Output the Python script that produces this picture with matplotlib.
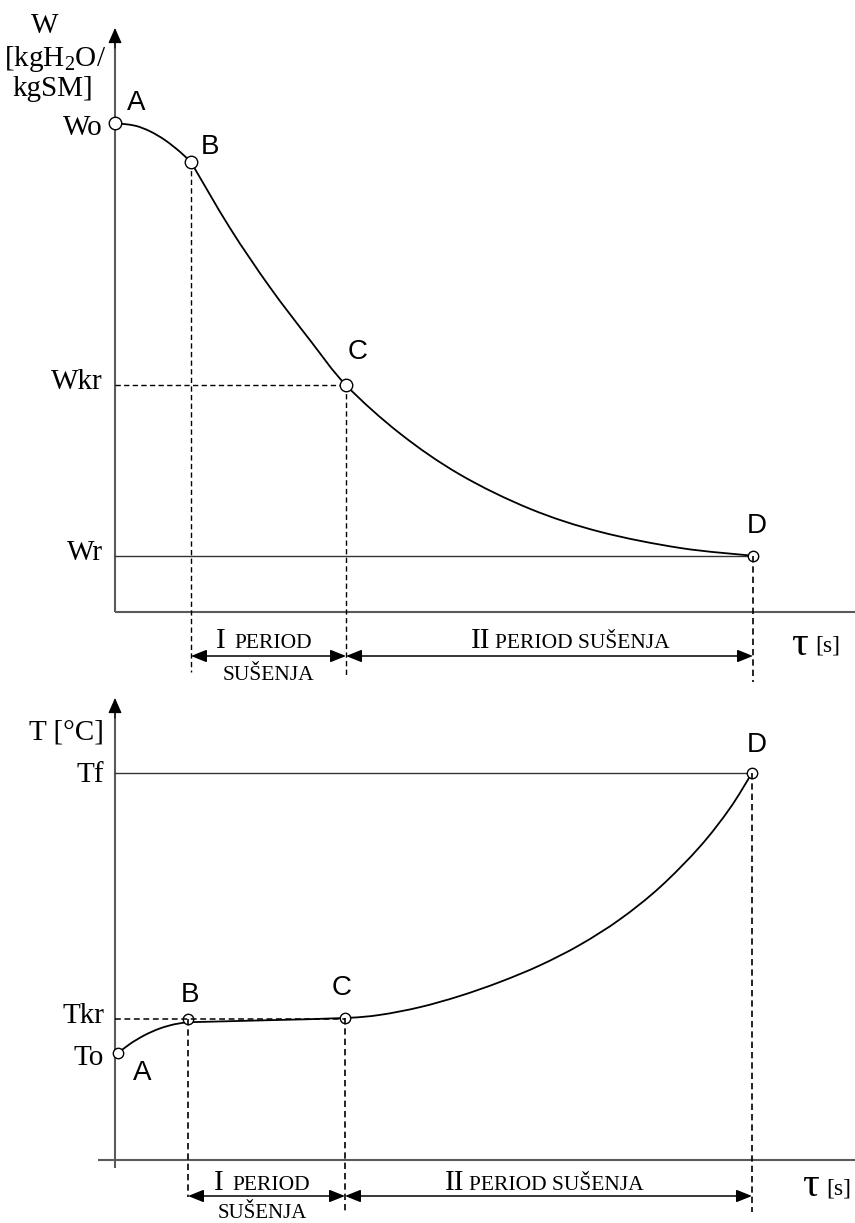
import matplotlib
matplotlib.use('Agg')
import matplotlib.pyplot as plt
from matplotlib.path import Path
from matplotlib.patches import PathPatch

plt.rcParams['mathtext.fontset'] = 'custom'
plt.rcParams['mathtext.rm'] = 'Liberation Serif'
plt.rcParams['mathtext.it'] = 'Liberation Serif:italic'

SERIF = 'Liberation Serif'
SANS = 'Liberation Sans'

# ---------------- data: moisture content W vs drying time tau ----------------
# segment A -> B
tau_W1 = [0.0, 0.313, 0.549, 0.784, 1.019, 1.191]
W_curve1 = [1.0, 0.9945, 0.983, 0.965, 0.941, 0.920]
# segment B -> D
tau_W2 = [1.191, 1.803, 2.429, 3.056, 3.621, 4.467, 5.408, 6.505, 7.602, 8.856, 10.0]
W_curve2 = [0.920, 0.785, 0.664, 0.556, 0.464, 0.365, 0.281, 0.211, 0.164, 0.131, 0.115]
W_pt_names = ['A', 'B', 'C', 'D']
W_pt_tau = [0.0, 1.191, 3.621, 10.0]
W_pt_val = [1.0, 0.920, 0.464, 0.115]
W_tick_labels = ['Wo', 'Wkr', 'Wr']
W_tick_vals = [1.0, 0.464, 0.115]

# ---------------- data: temperature T vs drying time tau ----------------
# segment A -> B
tau_T1 = [0.047, 0.235, 0.470, 0.705, 0.940, 1.144]
T_curve1 = [0.276, 0.300, 0.323, 0.340, 0.351, 0.356]
# segment B -> D
tau_T2 = [1.144, 2.351, 3.605, 4.154, 4.781, 5.408, 6.034, 6.661, 7.288, 7.915,
          8.542, 9.169, 9.639, 9.984]
T_curve2 = [0.356, 0.361, 0.367, 0.375, 0.395, 0.424, 0.460, 0.503, 0.556, 0.622,
            0.705, 0.810, 0.909, 1.0]
T_pt_names = ['A', 'B', 'C', 'D']
T_pt_tau = [0.047, 1.144, 3.605, 9.984]
T_pt_val = [0.276, 0.364, 0.367, 1.0]
T_tick_labels = ['Tf', 'Tkr', 'To']
T_tick_vals = [1.0, 0.364, 0.276]

period1 = ('I', 'PERIOD', 'SUŠENJA')
period2 = ('II', 'PERIOD SUŠENJA')

# ---------------- layout helpers (pixel -> data, for annotations only) -------
PXU = 63.8
X0 = 115.0
def tx(px):
    return (px - X0) / PXU
def ty_top(py):
    return (612.0 - py) / 489.0
def ty_bot(py):
    return (1160.0 - py) / 387.0


def smooth_curve(ax, xs, ys, **kw):
    """Draw a smooth line through the read points (Catmull-Rom as Bezier path)."""
    n = len(xs)
    verts = [(xs[0], ys[0])]
    codes = [Path.MOVETO]
    for i in range(n - 1):
        x0, y0 = (xs[i - 1], ys[i - 1]) if i > 0 else (xs[i], ys[i])
        x1, y1 = xs[i], ys[i]
        x2, y2 = xs[i + 1], ys[i + 1]
        x3, y3 = (xs[i + 2], ys[i + 2]) if i + 2 < n else (xs[i + 1], ys[i + 1])
        c1 = (x1 + (x2 - x0) / 6.0, y1 + (y2 - y0) / 6.0)
        c2 = (x2 - (x3 - x1) / 6.0, y2 - (y3 - y1) / 6.0)
        verts += [c1, c2, (x2, y2)]
        codes += [Path.CURVE4] * 3
    ax.add_patch(PathPatch(Path(verts, codes), fill=False, **kw))


fig = plt.figure(figsize=(8.55, 12.23), dpi=100)
axT = fig.add_axes([0, 0, 1, 1], label='top')
axB = fig.add_axes([0, 0, 1, 1], label='bottom')
axB.set_facecolor('none')
for ax in (axT, axB):
    ax.set_axis_off()
    ax.set_xlim(tx(0), tx(855))
axT.set_ylim(ty_top(1223), ty_top(0))
axB.set_ylim(ty_bot(1223), ty_bot(0))

AXC = '#5a5a5a'
DASH = (0, (3.8, 2.4))
tfs = 21          # tick-like label font size
pfs = 20          # point label size


def axis_line(ax, start, tip, color=AXC):
    ax.plot([start[0], tip[0]], [start[1], tip[1]], color=color, lw=1.5,
            solid_capstyle='butt', zorder=2)


def head(ax, base, tip):
    ax.annotate('', xy=tip, xytext=base,
                arrowprops=dict(arrowstyle='-|>,head_length=0.95,head_width=0.42',
                                color='black', lw=0.8, shrinkA=0, shrinkB=0),
                zorder=3)


def dbl(ax, x1, x2, y):
    ax.annotate('', xy=(x2, y), xytext=(x1, y),
                arrowprops=dict(arrowstyle='<|-|>,head_length=0.95,head_width=0.38',
                                color='black', lw=1.1, shrinkA=0, shrinkB=0),
                zorder=3)


# =============================== TOP PANEL ===================================
ax = axT
axis_line(ax, (0, 0), (0, ty_top(30)))
head(ax, (0, ty_top(48)), (0, ty_top(28)))
axis_line(ax, (0, 0), (tx(860), 0))
head(ax, (tx(840), 0), (tx(860), 0))

ax.plot([0, W_pt_tau[3]], [W_tick_vals[2]] * 2, color='#333333', lw=1.0, zorder=2)
ax.plot([0, W_pt_tau[2]], [W_tick_vals[1]] * 2, color='black', lw=1.0,
        ls=DASH, zorder=2)
ax.plot([W_pt_tau[1]] * 2, [W_pt_val[1], ty_top(672)], color='black', lw=1.0, ls=DASH, zorder=2)
ax.plot([W_pt_tau[2]] * 2, [W_pt_val[2], ty_top(676)], color='black', lw=1.0, ls=DASH, zorder=2)
ax.plot([W_pt_tau[3]] * 2, [W_pt_val[3], ty_top(682)], color='black', lw=1.2, ls=DASH, zorder=5)

smooth_curve(ax, tau_W1, W_curve1, color='black', lw=1.3, zorder=3)
smooth_curve(ax, tau_W2, W_curve2, color='black', lw=1.3, zorder=3)
ax.plot(W_pt_tau[:3], W_pt_val[:3], 'o', ms=9, mfc='white', mec='black', mew=1.0, zorder=6)
ax.plot(W_pt_tau[3:], W_pt_val[3:], 'o', ms=7.5, mfc='white', mec='black', mew=1.0, zorder=4)

offs_top = [(21, 20), (19, 15), (12, 33), (4, 30)]
for name, x, y, o in zip(W_pt_names, W_pt_tau, W_pt_val, offs_top):
    ax.annotate(name, xy=(x, y), xytext=o, textcoords='offset pixels',
                ha='center', va='center', family=SANS, fontsize=pfs)

tick_dy_top = [-12, -4, -4]
for lab, v, dy in zip(W_tick_labels, W_tick_vals, tick_dy_top):
    ax.annotate(lab, xy=(0, v), xytext=(-12, dy), textcoords='offset pixels',
                ha='right', va='baseline', family=SERIF, fontsize=tfs)

ax.text(tx(45), ty_top(33), 'W', ha='center', va='baseline', family=SERIF, fontsize=tfs)
ax.text(tx(55), ty_top(66), r'[kgH$_{2}$O/', ha='center', va='baseline', family=SERIF, fontsize=tfs)
ax.text(tx(53), ty_top(96), 'kgSM]', ha='center', va='baseline', family=SERIF, fontsize=tfs)

y_arr = ty_top(656)
dbl(ax, W_pt_tau[1], W_pt_tau[2], y_arr)
dbl(ax, W_pt_tau[2], W_pt_tau[3], y_arr)
ax.text(tx(216), ty_top(648), period1[0], ha='left', va='baseline', family=SERIF, fontsize=21)
ax.text(tx(234), ty_top(648), period1[1], ha='left', va='baseline', family=SERIF, fontsize=15.5)
ax.text(tx(268), ty_top(680), period1[2], ha='center', va='baseline', family=SERIF, fontsize=15.5)
ax.text(tx(471), ty_top(648), period2[0], ha='left', va='baseline', family=SERIF, fontsize=21)
ax.text(tx(495), ty_top(648), period2[1], ha='left', va='baseline', family=SERIF, fontsize=15.5)
ax.text(tx(791), ty_top(655), 'τ', ha='left', va='baseline', family=SERIF, fontsize=30)
ax.text(tx(815), ty_top(652), '[s]', ha='left', va='baseline', family=SERIF, fontsize=17)

# ============================== BOTTOM PANEL =================================
ax = axB
axis_line(ax, (0, ty_bot(1168)), (0, ty_bot(700)))
head(ax, (0, ty_bot(718)), (0, ty_bot(698)))
axis_line(ax, (tx(98), 0), (tx(860), 0))

ax.plot([0, T_pt_tau[3]], [T_tick_vals[0]] * 2, color='#333333', lw=1.0, zorder=2)
ax.plot([0, T_pt_tau[2]], [T_tick_vals[1]] * 2, color='black', lw=1.1,
        ls=DASH, zorder=5)
ax.plot([T_pt_tau[1]] * 2, [T_pt_val[1], ty_bot(1197)], color='black', lw=1.2, ls=DASH, zorder=5)
ax.plot([T_pt_tau[2]] * 2, [T_pt_val[2], ty_bot(1211)], color='black', lw=1.2, ls=DASH, zorder=5)
ax.plot([T_pt_tau[3]] * 2, [T_pt_val[3], ty_bot(1212)], color='black', lw=1.2, ls=DASH, zorder=5)

smooth_curve(ax, tau_T1, T_curve1, color='black', lw=1.3, zorder=3)
smooth_curve(ax, tau_T2, T_curve2, color='black', lw=1.3, zorder=3)
ax.plot(T_pt_tau, T_pt_val, 'o', ms=7.5, mfc='white', mec='black', mew=1.0, zorder=4)

offs_bot = [(24, -20), (2, 24), (-3, 30), (5, 28)]
for name, x, y, o in zip(T_pt_names, T_pt_tau, T_pt_val, offs_bot):
    ax.annotate(name, xy=(x, y), xytext=o, textcoords='offset pixels',
                ha='center', va='center', family=SANS, fontsize=pfs)

tick_dy_bot = [-9, -4, -12]
for lab, v, dy in zip(T_tick_labels, T_tick_vals, tick_dy_bot):
    ax.annotate(lab, xy=(0, v), xytext=(-11, dy), textcoords='offset pixels',
                ha='right', va='baseline', family=SERIF, fontsize=tfs)

ax.text(tx(66), ty_bot(740), 'T [°C]', ha='center', va='baseline', family=SERIF, fontsize=tfs)

y_arr = ty_bot(1196)
dbl(ax, T_pt_tau[1], T_pt_tau[2], y_arr)
dbl(ax, T_pt_tau[2], T_pt_tau[3], y_arr)
ax.text(tx(214), ty_bot(1190), period1[0], ha='left', va='baseline', family=SERIF, fontsize=21)
ax.text(tx(232), ty_bot(1190), period1[1], ha='left', va='baseline', family=SERIF, fontsize=15.5)
ax.text(tx(262), ty_bot(1218), period1[2], ha='center', va='baseline', family=SERIF, fontsize=15)
ax.text(tx(445), ty_bot(1190), period2[0], ha='left', va='baseline', family=SERIF, fontsize=21)
ax.text(tx(469), ty_bot(1190), period2[1], ha='left', va='baseline', family=SERIF, fontsize=15.5)
ax.text(tx(802), ty_bot(1196), 'τ', ha='left', va='baseline', family=SERIF, fontsize=30)
ax.text(tx(826), ty_bot(1194), '[s]', ha='left', va='baseline', family=SERIF, fontsize=17)

fig.savefig('out.png', dpi=100)
